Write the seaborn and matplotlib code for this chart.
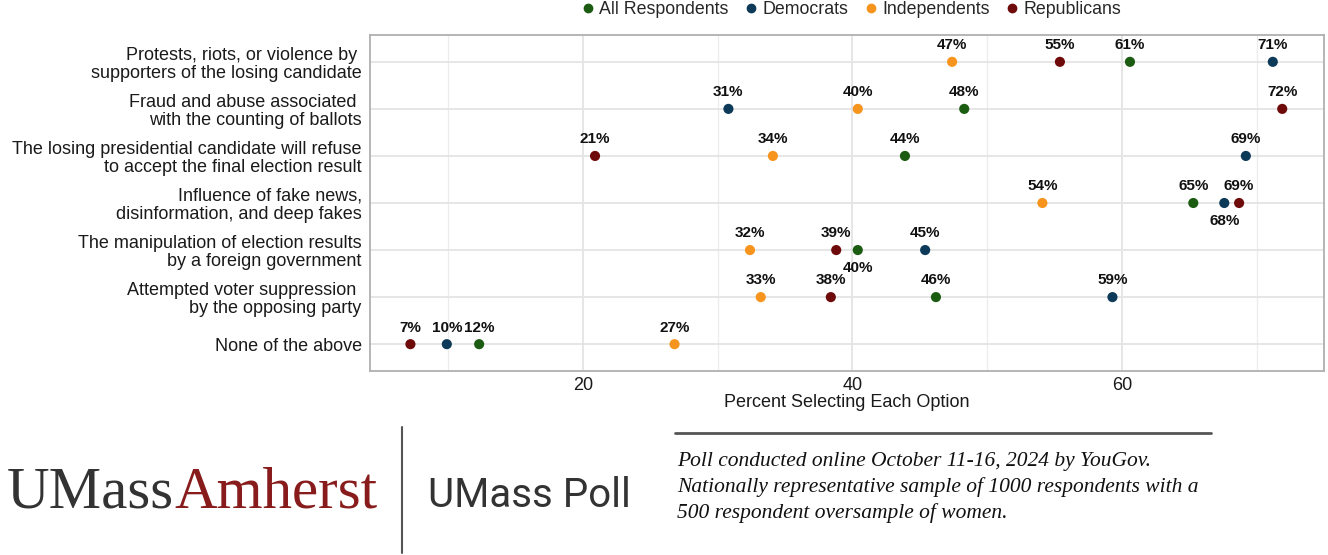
import matplotlib

matplotlib.use("Agg")
import matplotlib.pyplot as plt
import matplotlib.lines as mlines
from matplotlib.ticker import MultipleLocator
import seaborn as sns
import pandas as pd

ITEMS = [
    "Protests, riots, or violence by \nsupporters of the losing candidate",
    "Fraud and abuse associated \nwith the counting of ballots",
    "The losing presidential candidate will refuse\nto accept the final election result",
    "Influence of fake news,\ndisinformation, and deep fakes",
    "The manipulation of election results\nby a foreign government",
    "Attempted voter suppression \nby the opposing party",
    "None of the above",
]
GROUPS = ["All Respondents", "Democrats", "Independents", "Republicans"]
COLORS = ["#1c5c12", "#0d3a58", "#f7941d", "#6e0a0a"]

ALL_RESP = [60.6, 48.3, 43.9, 65.3, 40.4, 46.2, 12.3]
DEMOCRATS = [71.2, 30.8, 69.2, 67.6, 45.4, 59.3, 9.9]
INDEPENDENTS = [47.4, 40.4, 34.1, 54.1, 32.4, 33.2, 26.8]
REPUBLICANS = [55.4, 71.9, 20.9, 68.7, 38.8, 38.4, 7.2]

# labels drawn under the dot instead of above it
BELOW = [(ITEMS[3], "Democrats"), (ITEMS[4], "All Respondents")]

df = pd.DataFrame(
    {
        "item": ITEMS * 4,
        "group": [g for g in GROUPS for _ in ITEMS],
        "pct": ALL_RESP + DEMOCRATS + INDEPENDENTS + REPUBLICANS,
    }
)

sns.set_theme(style="white")
plt.rcParams["font.family"] = ["Liberation Sans", "DejaVu Sans"]

fig = plt.figure(figsize=(13.28, 5.55), dpi=100)
ax = fig.add_axes([370 / 1328, 1 - 371 / 555, 954 / 1328, 336 / 555])

sns.stripplot(
    data=df,
    x="pct",
    y="item",
    hue="group",
    order=ITEMS,
    hue_order=GROUPS,
    palette=COLORS,
    jitter=False,
    size=7.3,
    linewidth=0,
    ax=ax,
    legend=False,
    zorder=3,
)

for _, r in df.iterrows():
    yi = ITEMS.index(r["item"])
    below = (r["item"], r["group"]) in BELOW
    ax.annotate(
        f"{round(r['pct'])}%",
        (r["pct"], yi),
        xytext=(0, -13 if below else 12),
        textcoords="offset points",
        ha="center",
        va="center",
        fontsize=11,
        fontweight="bold",
        color="#111111",
        zorder=4,
    )

ax.set_xlim(4.2, 75)
ax.set_ylim(6.57, -0.57)
ax.xaxis.set_major_locator(MultipleLocator(20))
ax.xaxis.set_minor_locator(MultipleLocator(10))
ax.grid(which="major", axis="both", color="#e4e4e4", linewidth=1.3, zorder=0)
ax.grid(which="minor", axis="x", color="#ececec", linewidth=0.9, zorder=0)
ax.set_axisbelow(True)
for s in ax.spines.values():
    s.set_color("#b0b0b0")
    s.set_linewidth(1.3)
ax.tick_params(axis="both", length=0, labelsize=13, colors="#1a1a1a", pad=6)
ax.tick_params(axis="x", labelsize=13, pad=4)
for t in ax.get_yticklabels():
    t.set_horizontalalignment("right")
    t.set_linespacing(1.1)
ax.set_ylabel("")
ax.set_xlabel("Percent Selecting Each Option", fontsize=13, color="#1a1a1a", labelpad=0)

handles = [
    mlines.Line2D([], [], marker="o", linestyle="", color=c, markersize=6, label=g)
    for g, c in zip(GROUPS, COLORS)
]
fig.legend(
    handles=handles,
    loc="center",
    bbox_to_anchor=(851 / 1328, 1 - 10 / 555),
    ncol=4,
    frameon=False,
    fontsize=12.8,
    handletextpad=0.25,
    columnspacing=0.85,
    handlelength=0.8,
)

# footer: logo, divider and poll notes
base = 1 - 507 / 555
umass = fig.text(7 / 1328, base, "UMass", fontsize=42.5, family="Liberation Serif",
                 color="#333333", va="baseline", ha="left")
fig.canvas.draw()
ext = umass.get_window_extent(renderer=fig.canvas.get_renderer())
fig.text(ext.x1 / 1328, base, "Amherst", fontsize=42.5,
         family="Liberation Serif", color="#881c1c", va="baseline", ha="left")
fig.add_artist(mlines.Line2D([402 / 1328, 402 / 1328], [1 - 427 / 555, 1 - 553 / 555],
                             color="#555555", linewidth=1.5))
fig.text(428 / 1328, base, "UMass Poll", fontsize=29,
         family="Roboto", color="#333333", va="baseline", ha="left")
fig.add_artist(mlines.Line2D([675 / 1328, 1211 / 1328], [1 - 433 / 555, 1 - 433 / 555],
                             color="#555555", linewidth=2))
fig.text(677 / 1328, 1 - 452 / 555,
         "Poll conducted online October 11-16, 2024 by YouGov.\n"
         "Nationally representative sample of 1000 respondents with a\n"
         "500 respondent oversample of women.",
         fontsize=15.5, family="Liberation Serif", style="italic", color="#111111",
         va="top", ha="left", linespacing=1.4)

fig.savefig("out.png", dpi=100)
